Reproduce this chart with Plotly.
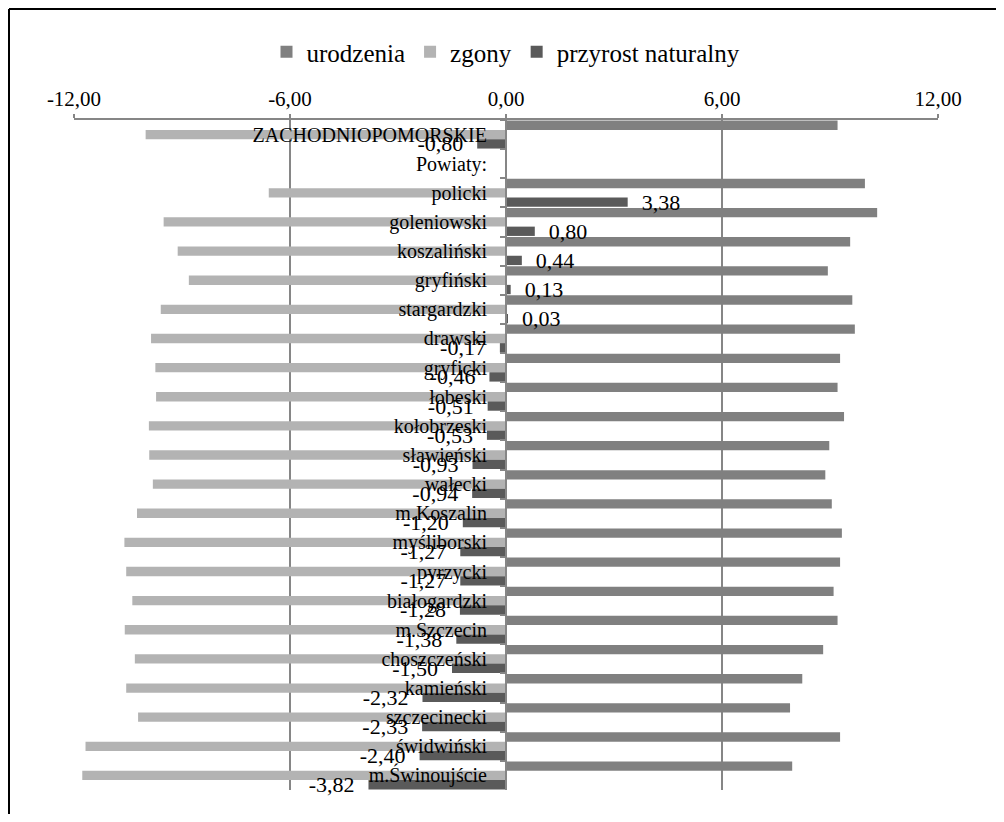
import plotly.graph_objects as go

categories = ["ZACHODNIOPOMORSKIE", "Powiaty:", "policki", "goleniowski", "koszaliński",
              "gryfiński", "stargardzki", "drawski", "gryficki", "łobeski", "kołobrzeski",
              "sławieński", "wałecki", "m.Koszalin", "myśliborski", "pyrzycki", "białogardzki",
              "m.Szczecin", "choszczeński", "kamieński", "szczecinecki", "świdwiński",
              "m.Świnoujście"]

urodzenia = [9.21, None, 9.97, 10.31, 9.56, 8.94, 9.62, 9.69, 9.28, 9.21, 9.39, 8.98, 8.87,
             9.05, 9.33, 9.28, 9.10, 9.21, 8.81, 8.23, 7.89, 9.28, 7.95]
zgony = [-10.01, None, -6.59, -9.51, -9.12, -8.81, -9.59, -9.86, -9.74, -9.72, -9.92, -9.91,
         -9.81, -10.25, -10.60, -10.55, -10.38, -10.59, -10.31, -10.55, -10.22, -11.68, -11.77]
przyrost = [-0.80, None, 3.38, 0.80, 0.44, 0.13, 0.03, -0.17, -0.46, -0.51, -0.53, -0.93,
            -0.94, -1.20, -1.27, -1.27, -1.28, -1.38, -1.50, -2.32, -2.33, -2.40, -3.82]

x_ticks = [-12, -6, 0, 6, 12]
x_ticktext = ["-12,00", "-6,00", "0,00", "6,00", "12,00"]

NB = "\u00a0"


def fmt(v):
    if v is None:
        return ""
    s = f"{v:.2f}".replace(".", ",")
    return s + NB * 2 if v < 0 else NB * 2 + s


FONT = "Liberation Serif"
GRID = "#868686"

# figure is drawn inside the page's 8px body margin
W, H = 996, 806
L, T, PW, PH = 66, 112, 864, 670

fig = go.Figure()
fig.add_trace(go.Bar(name="urodzenia", y=categories, x=urodzenia, orientation="h",
                     marker=dict(color="#808080", line=dict(width=0))))
fig.add_trace(go.Bar(name="zgony", y=categories, x=zgony, orientation="h",
                     marker=dict(color="#b3b3b3", line=dict(width=0))))
fig.add_trace(go.Bar(name="przyrost naturalny", y=categories, x=przyrost, orientation="h",
                     marker=dict(color="#5a5a5a", line=dict(width=0)),
                     text=[fmt(v) for v in przyrost], textposition="outside",
                     constraintext="none", cliponaxis=False,
                     textfont=dict(family=FONT, size=22, color="black")))

fx = lambda px: (px - L) / PW
fy = lambda py: 1 - (py - T) / PH

fig.update_layout(
    width=W, height=H,
    margin=dict(l=L, r=W - L - PW, t=T, b=H - T - PH),
    paper_bgcolor="white", plot_bgcolor="white",
    barmode="group", bargap=0.04, bargroupgap=0,
    font=dict(family=FONT, color="black"),
    showlegend=True,
    legend=dict(orientation="h", x=0.5, xanchor="center", y=fy(44), yanchor="middle",
                font=dict(family=FONT, size=25, color="black"), itemwidth=30,
                traceorder="normal", bgcolor="rgba(0,0,0,0)"),
    xaxis=dict(range=[-12, 12], side="top", tickvals=x_ticks, ticktext=x_ticktext,
               showgrid=True, gridcolor=GRID, gridwidth=1.5,
               showline=True, linecolor=GRID, linewidth=2,
               ticks="outside", ticklen=4, tickcolor=GRID, tickwidth=1.5,
               zeroline=False, tickfont=dict(family=FONT, size=21, color="black")),
    yaxis=dict(type="category", autorange="reversed", anchor="free", position=0.5,
               showline=True, linecolor=GRID, linewidth=2, showgrid=False,
               ticks="outside", ticklen=5, tickcolor=GRID, tickwidth=1.5,
               tickson="boundaries", ticklabelstandoff=14,
               tickfont=dict(family=FONT, size=20, color="black")),
    shapes=[
        dict(type="line", xref="paper", yref="paper", x0=fx(1), x1=fx(1),
             y0=fy(1), y1=fy(H + 5),
             line=dict(color="black", width=2)),
        dict(type="line", xref="paper", yref="paper", x0=fx(1), x1=fx(W + 5),
             y0=fy(1), y1=fy(1),
             line=dict(color="black", width=2)),
    ],
)

fig.write_html("out.html")
